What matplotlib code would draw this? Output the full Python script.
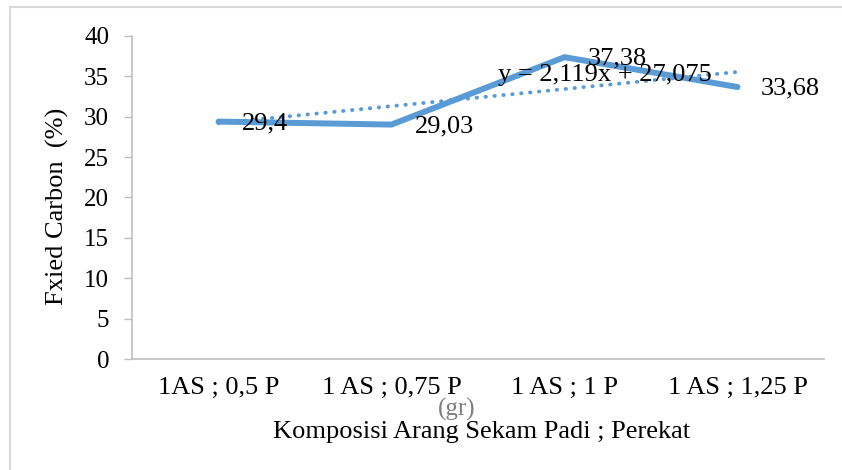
import matplotlib
matplotlib.use("Agg")
import matplotlib.pyplot as plt
from matplotlib.lines import Line2D

categories = ["1AS ; 0,5 P", "1 AS ; 0,75 P", "1 AS ; 1 P", "1 AS ; 1,25 P"]
values = [29.4, 29.03, 37.38, 33.68]
value_labels = ["29,4", "29,03", "37,38", "33,68"]
trend_slope = 2.119
trend_intercept = 27.075
trend_label = "y = 2,119x + 27,075"
y_ticks = [0, 5, 10, 15, 20, 25, 30, 35, 40]

plt.rcParams['font.family'] = ['Liberation Serif', 'DejaVu Serif']

BLUE = "#5B9BD5"
GRAY = "#BFBFBF"

fig = plt.figure(figsize=(8.42, 4.70), dpi=100)
W, H = 842, 470
ax = fig.add_axes([132 / W, 1 - 359 / H, 692 / W, 323 / H])

x = list(range(len(categories)))
ax.plot(x, values, color=BLUE, lw=4.3, solid_capstyle='round', solid_joinstyle='round', zorder=3)

trend = [trend_slope * (i + 1) + trend_intercept for i in x]
ax.plot(x, trend, color=BLUE, lw=2.8, linestyle=(0, (0.1, 2.2)), dash_capstyle='round', zorder=2)

for xi, v, lab in zip(x, values, value_labels):
    ax.annotate(lab, (xi, v), xytext=(17, -1), textcoords='offset points',
                ha='left', va='center', fontsize=19, color='black', zorder=4)

ax.text(2.234, 35.17, trend_label, fontsize=19, ha='center', va='center', zorder=4)

ax.set_xlim(-0.5, 3.5)
ax.set_ylim(0, 40)
ax.set_yticks(y_ticks)
ax.set_yticklabels([str(t) for t in y_ticks], fontsize=18)
ax.set_xticks(x)
ax.set_xticklabels(categories, fontsize=19)

ax.tick_params(axis='y', direction='out', length=5.5, width=1, color=GRAY, pad=11)
ax.tick_params(axis='x', length=0, pad=13)
for s in ['top', 'right']:
    ax.spines[s].set_visible(False)
for s in ['left', 'bottom']:
    ax.spines[s].set_color(GRAY)
    ax.spines[s].set_linewidth(1.2)

fig.text(57 / W, 1 - 206 / H, "Fxied Carbon  (%)", rotation=90, ha='center', va='center', fontsize=19)
fig.text(457 / W, 1 - 409 / H, "(gr)", ha='center', va='center', fontsize=18, color='#7F7F7F')
fig.text(482 / W, 1 - 432 / H, "Komposisi Arang Sekam Padi ; Perekat", ha='center', va='center', fontsize=19)

# outer chart border
fig.add_artist(Line2D([10 / W, 10 / W], [0, 1 - 7 / H], transform=fig.transFigure, color="#D9D9D9", lw=1.5))
fig.add_artist(Line2D([10 / W, 1], [1 - 7 / H, 1 - 7 / H], transform=fig.transFigure, color="#D9D9D9", lw=1.5))

fig.savefig("out.png", dpi=100)
